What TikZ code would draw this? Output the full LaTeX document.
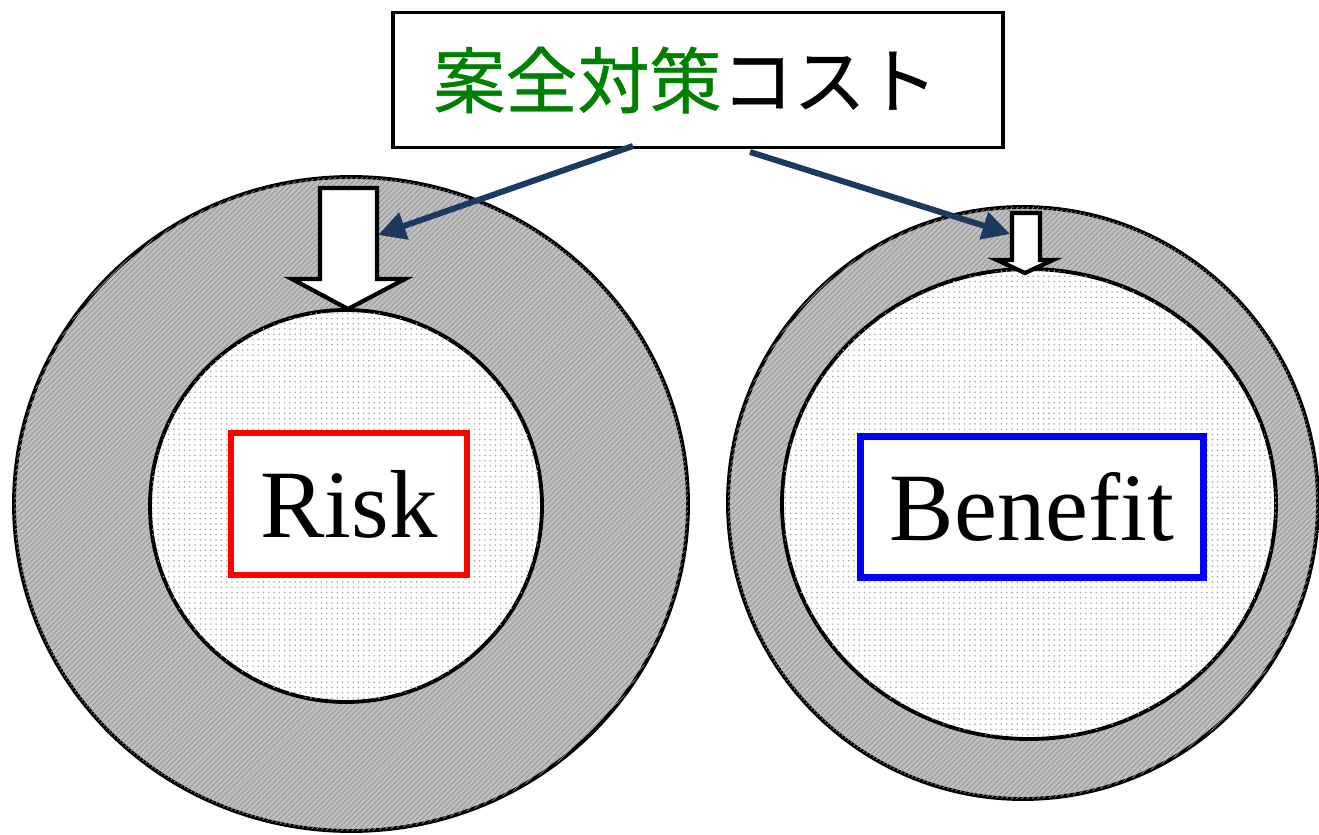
\documentclass[tikz,border=0pt]{standalone}
\usepackage{fontspec}
\setmainfont{Liberation Serif}
\newfontfamily\jpfont[FakeBold=0.6]{Noto Sans CJK JP}
\usepackage{tikz}
\usetikzlibrary{arrows.meta,patterns}
\usepackage{xcolor}
\definecolor{navy}{RGB}{28,58,96}
\definecolor{leaf}{RGB}{0,128,0}

\begin{document}
\begin{tikzpicture}[x=0.02cm,y=-0.02cm,
  outer/.style={draw,line width=2.2pt,fill=gray!50,
    postaction={pattern=north east lines,pattern color=gray!85}},
  inner/.style={draw,line width=2.2pt,fill=white,
    postaction={pattern=dots,pattern color=gray!70}},
  fat/.style={draw,line width=2.4pt,fill=white,line join=miter},
  tag/.style={draw=#1,line width=3.6pt,fill=white,inner sep=0pt,
    font=\fontsize{55}{60}\selectfont},
  link/.style={navy,line width=3.4pt,-{Triangle[length=0.55cm,width=0.55cm]}}
  ]
\useasboundingbox (0,0) rectangle (1319,835);
% risk ring
\draw[outer] (351,504) ellipse (337 and 327);
\draw[inner] (346,506) ellipse (196 and 196);
% benefit ring
\draw[outer] (1023,503) ellipse (295 and 296);
\draw[inner] (1029,504) ellipse (247 and 235);
% block arrows into the inner circles
\draw[fat] (320,188) -- (377,188) -- (377,279) -- (405,279) -- (348,309)
  -- (292,279) -- (320,279) -- cycle;
\draw[fat] (1012,213) -- (1040,213) -- (1040,260) -- (1053,260) -- (1025,273)
  -- (997,260) -- (1012,260) -- cycle;
% labels
\node[tag=red,minimum width=4.72cm,minimum height=2.84cm]
  (risk) at (349,504) {Risk};
\node[tag=blue,minimum width=6.86cm,minimum height=2.82cm]
  (benefit) at (1032,507) {Benefit};
\node[draw,line width=2.2pt,fill=white,minimum width=12.2cm,minimum height=2.7cm,
  font=\jpfont\fontsize{41}{44}\selectfont] (cost) at (698,80)
  {\hspace*{-0.5cm}\textcolor{leaf}{案全対策}コスト};
% cost links
\coordinate (c1) at (633,146);
\coordinate (c2) at (750,152);
\coordinate (r1) at (378,235);
\coordinate (b1) at (1010,234);
\draw[link] (c1) -- (r1);
\draw[link] (c2) -- (b1);
\end{tikzpicture}
\end{document}
